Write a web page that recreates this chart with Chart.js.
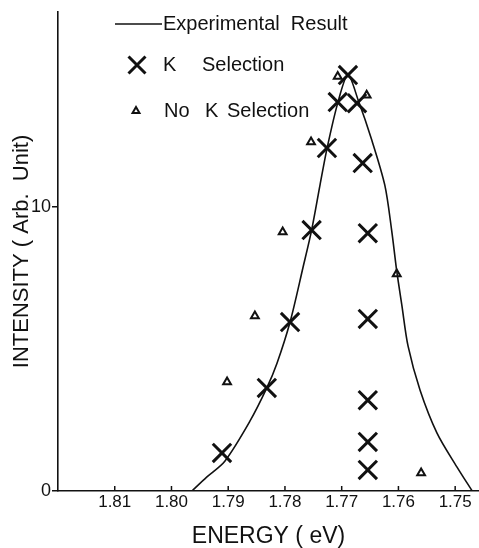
<!DOCTYPE html>
<html>
<head>
<meta charset="utf-8">
<script src="https://cdn.jsdelivr.net/npm/chart.js@4"></script>
<style>
  html, body { margin: 0; padding: 0; background: #fff; }
  #wrap { width: 479px; height: 548px; }
</style>
</head>
<body>
<div id="wrap"><canvas id="chart"></canvas></div>
<script>
// Experimental Result curve (energy in eV, intensity in arb. units)
const curveEnergy = [1.7964, 1.7938, 1.7906, 1.7862, 1.7832, 1.7814, 1.7791, 1.7768, 1.7753,
  1.7738, 1.7726, 1.7707, 1.7689, 1.7671, 1.7647, 1.7624, 1.7612, 1.7603, 1.7594, 1.7583, 1.7562,
  1.7532, 1.7497, 1.7470];
const curveIntensity = [0, 0.49, 1.05, 2.45, 3.63, 4.5, 5.95, 7.89, 9.19,
  10.8, 12.05, 13.66, 14.65, 13.77, 12.36, 10.77, 9.19, 7.75, 6.55, 5.1, 3.56,
  2.04, 0.85, 0];

// K selection (crosses)
const kEnergy = [1.7689, 1.7707, 1.7673, 1.7726, 1.7663, 1.7753, 1.7654, 1.7791, 1.7654, 1.7832, 1.7654, 1.7911, 1.7654, 1.7654];
const kIntensity = [14.65, 13.7, 13.66, 12.08, 11.55, 9.19, 9.08, 5.95, 6.06, 3.63, 3.2, 1.34, 1.73, 0.74];

// No K selection (triangles)
const noKEnergy = [1.7707, 1.7656, 1.7754, 1.7804, 1.7603, 1.7853, 1.7902, 1.7560];
const noKIntensity = [14.6, 13.94, 12.29, 9.12, 7.64, 6.16, 3.84, 0.63];

const energyTicks = [1.81, 1.80, 1.79, 1.78, 1.77, 1.76, 1.75];
const intensityTicks = [0, 10];

const toPoints = (xs, ys) => xs.map((x, i) => ({ x: x, y: ys[i] }));

const FONT = '"Liberation Sans", Arial, sans-serif';
const INK = '#111';

// inward x ticks + the legend inside the plot
const overlay = {
  id: 'overlay',
  afterDraw(chart) {
    const { ctx, chartArea } = chart;
    const x = chart.scales.x;
    ctx.save();
    ctx.strokeStyle = INK;
    ctx.fillStyle = INK;
    ctx.lineWidth = 1.5;
    x.ticks.forEach(t => {
      const px = x.getPixelForValue(t.value);
      ctx.beginPath();
      ctx.moveTo(px, chartArea.bottom);
      ctx.lineTo(px, chartArea.bottom - 5);
      ctx.stroke();
    });

    ctx.font = '20px ' + FONT;
    ctx.textBaseline = 'middle';
    ctx.beginPath();
    ctx.moveTo(115, 24);
    ctx.lineTo(162, 24);
    ctx.stroke();
    ctx.fillText('Experimental  Result', 163, 24);

    ctx.lineWidth = 3;
    Chart.helpers.drawPoint(ctx, { pointStyle: 'crossRot', radius: 12, borderWidth: 3, rotation: 0 }, 137, 65);
    ctx.fillText('K', 163, 65);
    ctx.fillText('Selection', 202, 65);

    ctx.lineWidth = 2;
    ctx.fillStyle = '#fff';
    Chart.helpers.drawPoint(ctx, { pointStyle: 'triangle', radius: 4, borderWidth: 2, rotation: 0 }, 136, 111);
    ctx.fillStyle = INK;
    ctx.fillText('No', 164, 111);
    ctx.fillText('K', 205, 111);
    ctx.fillText('Selection', 227, 111);
    ctx.restore();
  }
};

new Chart(document.getElementById('chart'), {
  type: 'scatter',
  data: {
    datasets: [
      {
        label: 'Experimental Result',
        data: toPoints(curveEnergy, curveIntensity),
        showLine: true,
        borderColor: INK,
        borderWidth: 1.6,
        pointRadius: 0,
        tension: 0.3,
        fill: false
      },
      {
        label: 'K Selection',
        data: toPoints(kEnergy, kIntensity),
        pointStyle: 'crossRot',
        pointRadius: 13,
        borderColor: INK,
        borderWidth: 3
      },
      {
        label: 'No K Selection',
        data: toPoints(noKEnergy, noKIntensity),
        pointStyle: 'triangle',
        pointRadius: 4.5,
        borderColor: INK,
        backgroundColor: '#fff',
        borderWidth: 2
      }
    ]
  },
  options: {
    responsive: true,
    maintainAspectRatio: false,
    animation: false,
    layout: { autoPadding: false, padding: { top: 12, right: 0, left: 0, bottom: 0 } },
    plugins: {
      legend: { display: false },
      tooltip: { enabled: false }
    },
    scales: {
      x: {
        type: 'linear',
        reverse: true,
        min: 1.7458,
        max: 1.82,
        afterBuildTicks: s => { s.ticks = energyTicks.map(v => ({ value: v })); },
        afterFit: s => { s.height = 57; s.paddingLeft = 0; s.paddingRight = 0; },
        grid: { display: true, drawOnChartArea: false, drawTicks: false },
        border: { display: true, color: INK, width: 1.6 },
        ticks: {
          padding: 1,
          color: INK,
          font: { family: FONT, size: 17 },
          callback: v => v.toFixed(2)
        },
        title: {
          display: true,
          text: 'ENERGY ( eV)',
          color: INK,
          font: { family: FONT, size: 23, lineHeight: 1 },
          padding: { top: 0, bottom: 0 }
        }
      },
      y: {
        min: 0,
        max: 16.87,
        afterBuildTicks: s => { s.ticks = intensityTicks.map(v => ({ value: v })); },
        afterFit: s => { s.width = 58; s.paddingTop = 0; s.paddingBottom = 0; },
        grid: { display: true, drawOnChartArea: false, drawTicks: true, tickLength: 6, color: INK, lineWidth: 1.5 },
        border: { display: true, color: INK, width: 1.6 },
        ticks: {
          padding: 1,
          color: INK,
          font: { family: FONT, size: 18 }
        },
        title: {
          display: true,
          text: 'INTENSITY ( Arb.  Unit)',
          color: INK,
          font: { family: FONT, size: 22 },
          padding: { top: 9, bottom: 0 }
        }
      }
    }
  },
  plugins: [overlay]
});
</script>
</body>
</html>
